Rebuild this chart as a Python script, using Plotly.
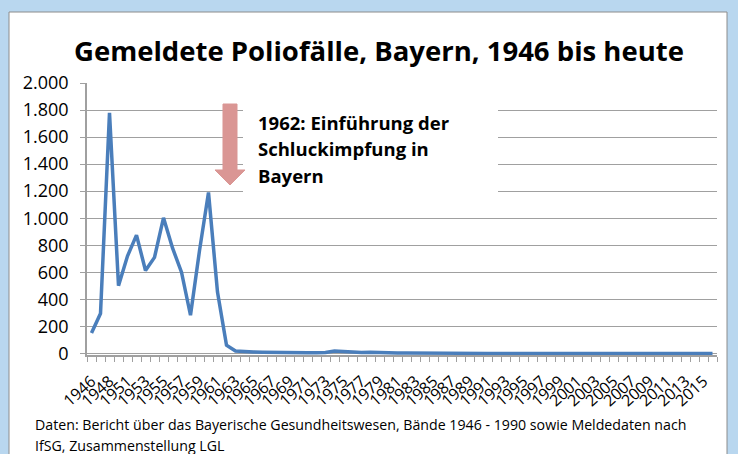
import plotly.graph_objects as go

# ---- data ----
years = ["1946", "1947", "1948", "1950", "1951", "1952", "1953", "1954", "1955", "1956",
         "1957", "1958", "1959", "1960", "1961", "1962", "1963", "1964", "1965", "1966",
         "1967", "1968", "1969", "1970", "1971", "1972", "1973", "1974", "1975", "1976",
         "1977", "1978", "1979", "1980", "1981", "1982", "1983", "1984", "1985", "1986",
         "1987", "1988", "1989", "1990", "1991", "1992", "1993", "1994", "1995", "1996",
         "1997", "1998", "1999", "2000", "2001", "2002", "2003", "2004", "2005", "2006",
         "2007", "2008", "2009", "2010", "2011", "2012", "2013", "2014", "2015", "2016"]
cases = [150, 295, 1780, 500, 720, 875, 613, 710, 1003, 780,
         600, 282, 760, 1190, 453, 60, 17, 12, 10, 9,
         7, 5, 4, 4, 5, 4, 6, 18, 12, 7,
         6, 9, 5, 4, 3, 3, 2, 3, 2, 2,
         2, 1, 1, 1, 0, 0, 1, 0, 0, 0,
         0, 0, 0, 0, 0, 0, 0, 0, 0, 0,
         0, 0, 0, 0, 0, 0, 0, 0, 0, 0]
y_ticks = [0, 200, 400, 600, 800, 1000, 1200, 1400, 1600, 1800, 2000]

title_text = "Gemeldete Poliofälle, Bayern, 1946 bis heute"
note_lines = ["1962: Einführung der", "Schluckimpfung in", "Bayern"]
source_lines = ["Daten: Bericht über das Bayerische Gesundheitswesen, Bände 1946 - 1990 sowie Meldedaten nach",
                "IfSG, Zusammenstellung LGL"]

# ---- layout geometry ----
W, H = 738, 454
L, R, T, B = 87, 21, 83, 99
PW, PH = W - L - R, H - T - B


def px(x):
    return (x - L) / PW


def py(y):
    return (H - B - y) / PH


FONT = "Open Sans"
GRID = "#A0A0A0"
idx = list(range(len(years)))

fig = go.Figure()
fig.add_trace(go.Scatter(x=idx, y=cases, mode="lines",
                         line=dict(color="#4A7EBB", width=3.5),
                         hoverinfo="x+y", showlegend=False))

shapes = [
    # white chart card on light blue frame
    dict(type="rect", xref="paper", yref="paper", layer="below",
         x0=px(9), x1=px(727), y0=py(470), y1=py(12),
         fillcolor="white", line=dict(color="#8C8C8C", width=1)),
    # white text box (covers gridlines)
    dict(type="rect", xref="paper", yref="paper", layer="above",
         x0=px(243), x1=px(498), y0=py(200), y1=py(95),
         fillcolor="white", line=dict(width=0)),
]
# block arrow
pts = [(223, 104), (237, 104), (237, 170), (245, 170), (230, 185), (215, 170), (223, 170)]
path = "M " + " L ".join(f"{px(a):.5f},{py(b):.5f}" for a, b in pts) + " Z"
shapes.append(dict(type="path", xref="paper", yref="paper", layer="above", path=path,
                   fillcolor="#DA9694", line=dict(color="#DA9694", width=1)))

annotations = [
    dict(text=f"<b>{title_text}</b>", xref="paper", yref="paper", x=px(379), y=py(50),
         xanchor="center", yanchor="middle", showarrow=False,
         font=dict(family=FONT, size=27.5, color="black")),
]
for i, ln in enumerate(note_lines):
    annotations.append(dict(text=f"<b>{ln}</b>", xref="paper", yref="paper",
                            x=px(256), y=py(122 + i * 26.5), xanchor="left", yanchor="middle",
                            showarrow=False, font=dict(family=FONT, size=18.5, color="black")))
for i, ln in enumerate(source_lines):
    annotations.append(dict(text=ln, xref="paper", yref="paper",
                            x=px(33), y=py(424 + i * 21), xanchor="left", yanchor="middle",
                            showarrow=False, font=dict(family=FONT, size=14.2, color="black")))

fig.update_layout(
    width=W, height=H, autosize=False,
    margin=dict(l=L, r=R, t=T, b=B, pad=0, autoexpand=False),
    paper_bgcolor="#B9D7EF", plot_bgcolor="rgba(0,0,0,0)",
    separators=",.",
    shapes=shapes, annotations=annotations,
    xaxis=dict(range=[-0.5, len(years) - 0.5], showgrid=False, zeroline=False,
               showline=True, linecolor=GRID, linewidth=1.5,
               tickmode="array", tickvals=idx[::2], ticktext=years[::2],
               ticks="", tickangle=-42, automargin=False, ticklabelstandoff=9,
               tickfont=dict(family=FONT, size=16, color="black"),
               minor=dict(tickmode="array", tickvals=[i - 0.5 for i in range(len(years) + 1)],
                          ticks="outside", ticklen=5, tickcolor=GRID, tickwidth=1, showgrid=False)),
    yaxis=dict(range=[-12, 2000], tickmode="array", tickvals=y_ticks, tickformat=",d",
               showgrid=True, gridcolor=GRID, gridwidth=1, zeroline=False,
               showline=True, linecolor=GRID, linewidth=1.5, automargin=False,
               ticks="outside", ticklen=5, tickcolor=GRID, ticklabelstandoff=8,
               tickfont=dict(family=FONT, size=18, color="black")),
)

fig.write_html("out.html", post_script="document.body.style.margin='0';",
               config={"displayModeBar": False})
